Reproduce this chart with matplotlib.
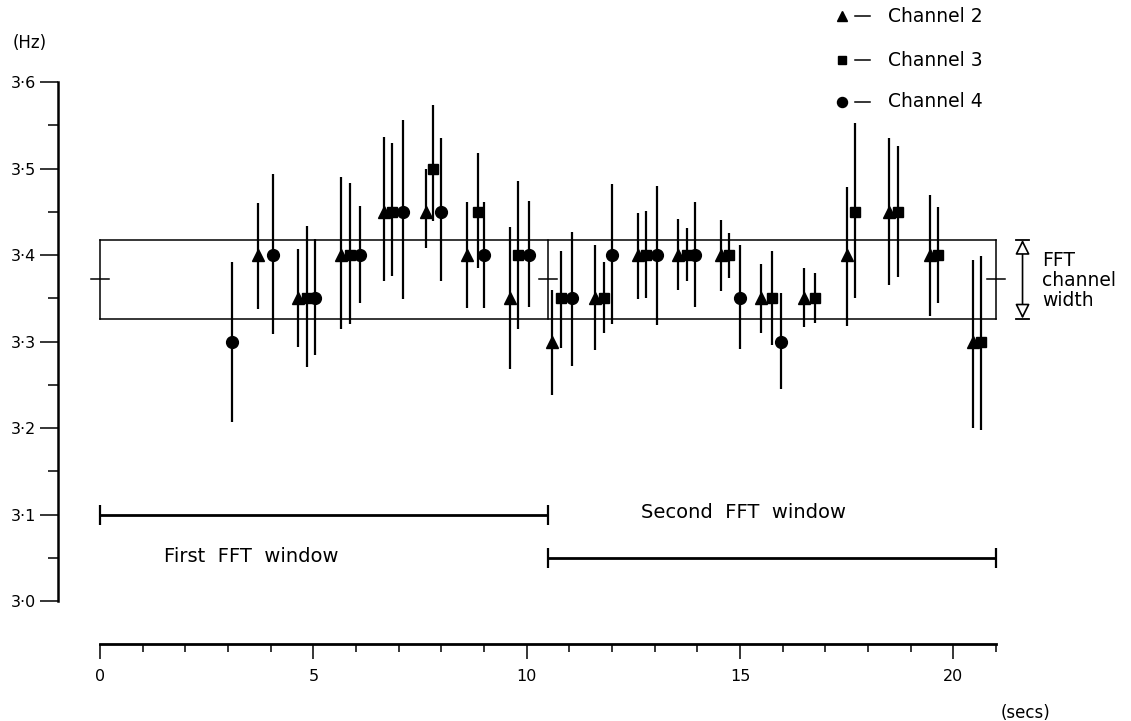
import matplotlib
matplotlib.use('Agg')
import matplotlib.pyplot as plt

# channel 2 (triangles): time (s), frequency (Hz), error bar ends
ch2_t = [3.7, 4.65, 5.65, 6.65, 7.65, 8.6, 9.6, 10.6, 11.6, 12.6, 13.55, 14.55, 15.5, 16.5, 17.5, 18.5, 19.45, 20.45]
ch2_f = [3.40, 3.35, 3.40, 3.45, 3.45, 3.40, 3.35, 3.30, 3.35, 3.40, 3.40, 3.40, 3.35, 3.35, 3.40, 3.45, 3.40, 3.30]
ch2_lo = [3.338, 3.294, 3.315, 3.370, 3.408, 3.339, 3.268, 3.238, 3.290, 3.349, 3.360, 3.358, 3.310, 3.317, 3.318, 3.365, 3.329, 3.200]
ch2_hi = [3.460, 3.407, 3.490, 3.536, 3.499, 3.461, 3.432, 3.359, 3.412, 3.449, 3.442, 3.440, 3.390, 3.385, 3.479, 3.535, 3.469, 3.394]

# channel 3 (squares)
ch3_t = [4.85, 5.85, 6.85, 7.8, 8.85, 9.8, 10.8, 11.8, 12.8, 13.75, 14.75, 15.75, 16.75, 17.7, 18.7, 19.65, 20.65]
ch3_f = [3.35, 3.40, 3.45, 3.50, 3.45, 3.40, 3.35, 3.35, 3.40, 3.40, 3.40, 3.35, 3.35, 3.45, 3.45, 3.40, 3.30]
ch3_lo = [3.270, 3.320, 3.376, 3.439, 3.385, 3.314, 3.292, 3.310, 3.350, 3.370, 3.374, 3.296, 3.321, 3.350, 3.375, 3.344, 3.198]
ch3_hi = [3.434, 3.483, 3.529, 3.573, 3.518, 3.486, 3.405, 3.392, 3.451, 3.431, 3.426, 3.405, 3.379, 3.553, 3.526, 3.455, 3.399]

# channel 4 (circles)
ch4_t = [3.1, 4.05, 5.05, 6.1, 7.1, 8.0, 9.0, 10.05, 11.05, 12.0, 13.05, 13.95, 15.0, 15.95]
ch4_f = [3.30, 3.40, 3.35, 3.40, 3.45, 3.45, 3.40, 3.40, 3.35, 3.40, 3.40, 3.40, 3.35, 3.30]
ch4_lo = [3.207, 3.309, 3.284, 3.344, 3.349, 3.370, 3.339, 3.340, 3.272, 3.320, 3.319, 3.340, 3.291, 3.245]
ch4_hi = [3.392, 3.494, 3.418, 3.457, 3.556, 3.535, 3.461, 3.463, 3.427, 3.482, 3.480, 3.461, 3.412, 3.356]

# FFT windows and channel
win_edges = [0, 10.5, 21]
fft_center = 3.372
fft_top = 3.4175
fft_bottom = 3.3265
win_levels = [3.10, 3.05]
win_names = ['First  FFT  window', 'Second  FFT  window']

channel_names = ['Channel 2', 'Channel 3', 'Channel 4']
channel_markers = ['^', 's', 'o']

y_ticks = [3.0, 3.1, 3.2, 3.3, 3.4, 3.5, 3.6]
y_tick_labels = ['3·0', '3·1', '3·2', '3·3', '3·4', '3·5', '3·6']
y_minor = [3.05, 3.15, 3.25, 3.35, 3.45, 3.55]
x_ticks = [0, 5, 10, 15, 20]
x_tick_labels = ['0', '5', '10', '15', '20']
x_minor = list(range(0, 22))

plt.rcParams['font.family'] = ['DejaVu Sans']

fig = plt.figure(figsize=(11.31, 7.21), dpi=100)
ax = fig.add_axes([0, 0, 1, 1])
ax.set_xlim(-2.344, 24.162)
ax.set_ylim(2.8613, 3.6948)
ax.patch.set_visible(False)

for s in ['top', 'right']:
    ax.spines[s].set_visible(False)
ax.spines['left'].set_position(('data', -0.98))
ax.spines['left'].set_bounds(3.0, 3.6)
ax.spines['left'].set_linewidth(1.8)
ax.spines['bottom'].set_position(('data', 2.95))
ax.spines['bottom'].set_bounds(0, 21)
ax.spines['bottom'].set_linewidth(2.0)

ax.set_yticks(y_ticks, labels=y_tick_labels)
ax.set_yticks(y_minor, minor=True)
ax.set_xticks(x_ticks, labels=x_tick_labels)
ax.set_xticks(x_minor, minor=True)
ax.tick_params(axis='y', which='major', direction='out', length=13, width=1.1, pad=3, labelsize=11.5)
ax.tick_params(axis='y', which='minor', direction='out', length=7, width=1.1)
ax.tick_params(axis='x', which='major', direction='out', length=11, width=1.1, pad=7, labelsize=11.5)
ax.tick_params(axis='x', which='minor', direction='out', length=6, width=1.1)

# FFT channel boxes
ax.plot([win_edges[0], win_edges[-1]], [fft_top, fft_top], color='k', lw=1.1)
ax.plot([win_edges[0], win_edges[-1]], [fft_bottom, fft_bottom], color='k', lw=1.1)
for e in win_edges:
    ax.plot([e, e], [fft_bottom, fft_top], color='k', lw=1.1)
    ax.plot([e - 0.22, e + 0.2], [fft_center, fft_center], color='k', lw=1.1)

# FFT windows
for i in range(2):
    s, e = win_edges[i], win_edges[i + 1]
    ax.errorbar((s + e) / 2, win_levels[i], xerr=(e - s) / 2, fmt='none', ecolor='k',
                elinewidth=2.0, capsize=7, capthick=1.6)
ax.text(3.55, 3.051, win_names[0], ha='center', va='center', fontsize=14)
ax.text(15.09, 3.102, win_names[1], ha='center', va='center', fontsize=14)

# data
series = [(ch2_t, ch2_f, ch2_lo, ch2_hi), (ch3_t, ch3_f, ch3_lo, ch3_hi), (ch4_t, ch4_f, ch4_lo, ch4_hi)]
sizes = [8, 7, 8.5]
for (t, f, lo, hi), m, ms in zip(series, channel_markers, sizes):
    err = [[fi - l for fi, l in zip(f, lo)], [h - fi for fi, h in zip(f, hi)]]
    ax.errorbar(t, f, yerr=err, fmt=m, color='k', ms=ms, elinewidth=1.6, capsize=0, zorder=3)

# FFT channel width marker
ax.annotate('', xy=(21.62, fft_top), xytext=(21.62, fft_bottom),
            arrowprops=dict(arrowstyle='<|-|>', fc='white', ec='k', lw=1.2,
                            mutation_scale=22, shrinkA=0, shrinkB=0))
for yv in [fft_top, fft_bottom]:
    ax.plot([21.46, 21.78], [yv, yv], color='k', lw=1.3)
ax.text(22.08, 3.405, 'FFT\nchannel\nwidth', ha='left', va='top', fontsize=13.5, linespacing=1.08)

# legend
legend_y = [3.676, 3.625, 3.577]
for name, m, ms, yv in zip(channel_names, channel_markers, sizes, legend_y):
    ax.plot(17.38, yv, marker=m, color='k', ms=ms * 0.85, clip_on=False)
    ax.plot([17.7, 18.05], [yv, yv], color='k', lw=1.1)
    ax.text(18.47, yv, name, ha='left', va='center', fontsize=13.5)

ax.text(-1.64, 3.645, '(Hz)', ha='center', va='center', fontsize=12)
ax.text(21.68, 2.8705, '(secs)', ha='center', va='center', fontsize=12)

fig.savefig('out.png', dpi=100)
